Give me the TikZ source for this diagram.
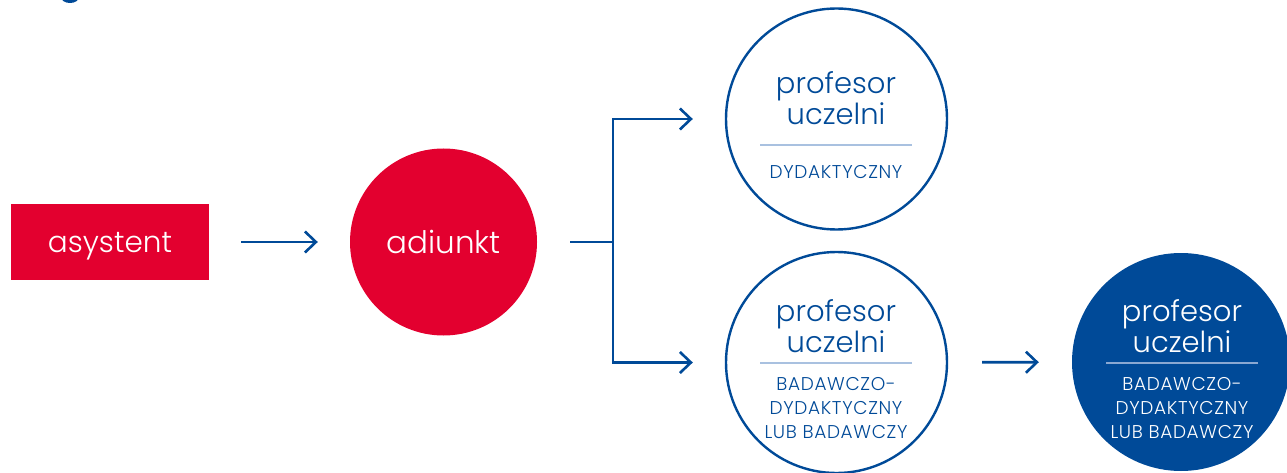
\documentclass[tikz,border=0pt]{standalone}
\usepackage{fontspec}
\setmainfont{Poppins}[UprightFont={* Light}]
\usetikzlibrary{arrows.meta}
\definecolor{ured}{HTML}{E3002F}
\definecolor{ublue}{HTML}{004A98}
\definecolor{uline}{HTML}{A9C1E0}
\definecolor{ulined}{HTML}{8AA8D2}
\begin{document}
\begin{tikzpicture}[x=1pt,y=-1pt,
  redbox/.style={fill=ured, text=white, inner sep=0pt, text depth=0pt, font=\fontsize{29.5}{32}\selectfont},
  redcirc/.style={circle, fill=ured, text=white, inner sep=0pt, font=\fontsize{31}{32}\selectfont},
  ocirc/.style={circle, draw=ublue, line width=2.4pt, fill=white, inner sep=0pt},
  fcirc/.style={circle, fill=ublue, inner sep=0pt},
  bigtxt/.style={anchor=base, inner sep=0pt, font=\fontsize{29}{32}\selectfont},
  smalltxt/.style={anchor=base, inner sep=0pt, font=\fontsize{18.5}{20}\selectfont\addfontfeatures{LetterSpace=3.5}},
  bline/.style={draw=ublue, line width=2.6pt},
  conn/.style={bline, -{Straight Barb[length=11pt,width=21pt,line width=2.6pt]}},
  sep/.style={line width=1.8pt}
]
\useasboundingbox (0,0) rectangle (1287,473);
% cut-off element at top edge
\begin{scope}
\clip (0,0) rectangle (1287,473);
\fill[ublue] (70,-3) ellipse (9pt and 6pt);
\end{scope}

\node[redbox, minimum width=198pt, minimum height=76pt] (asy) at (110,242) {asystent};
\node[redcirc, minimum size=187pt] (adi) at (443.5,242) {adiunkt};

\node[ocirc, minimum size=221pt] (pu1) at (836.5,119) {};
\node[ocirc, minimum size=221pt] (pu2) at (836.5,362.5) {};
\node[fcirc, minimum size=218pt] (pu3) at (1181,362) {};

\coordinate (br) at (613,242);

\draw[conn, shorten <=32pt, shorten >=32pt] (asy) -- (adi);
\draw[bline, shorten <=33pt] (adi) -- (br);
\draw[conn, shorten >=32pt] (br) |- (pu1);
\draw[conn, shorten >=32pt] (br) |- (pu2);
\draw[conn, shorten <=34pt, shorten >=33pt] (pu2) -- (pu3);

% texts of circle 1
\node[bigtxt, text=ublue] (t1a) at (836,94) {profesor};
\node[bigtxt, text=ublue] (t1b) at (836,125) {uczelni};
\draw[sep, uline] (760,145) -- (912,145);
\node[smalltxt, text=ublue] (t1c) at (836,179) {DYDAKTYCZNY};

% texts of circle 2
\node[bigtxt, text=ublue] (t2a) at (836,321) {profesor};
\node[bigtxt, text=ublue] (t2b) at (836,352) {uczelni};
\draw[sep, uline] (760,363) -- (912,363);
\node[smalltxt, text=ublue] (t2c) at (836,390) {BADAWCZO-};
\node[smalltxt, text=ublue] (t2d) at (836,414) {DYDAKTYCZNY};
\node[smalltxt, text=ublue] (t2e) at (836,438) {LUB BADAWCZY};

% texts of circle 3
\node[bigtxt, text=white] (t3a) at (1182,321) {profesor};
\node[bigtxt, text=white] (t3b) at (1182,352) {uczelni};
\draw[sep, ulined] (1106,363) -- (1258,363);
\node[smalltxt, text=white] (t3c) at (1182,390) {BADAWCZO-};
\node[smalltxt, text=white] (t3d) at (1182,414) {DYDAKTYCZNY};
\node[smalltxt, text=white] (t3e) at (1182,438) {LUB BADAWCZY};
\end{tikzpicture}
\end{document}
